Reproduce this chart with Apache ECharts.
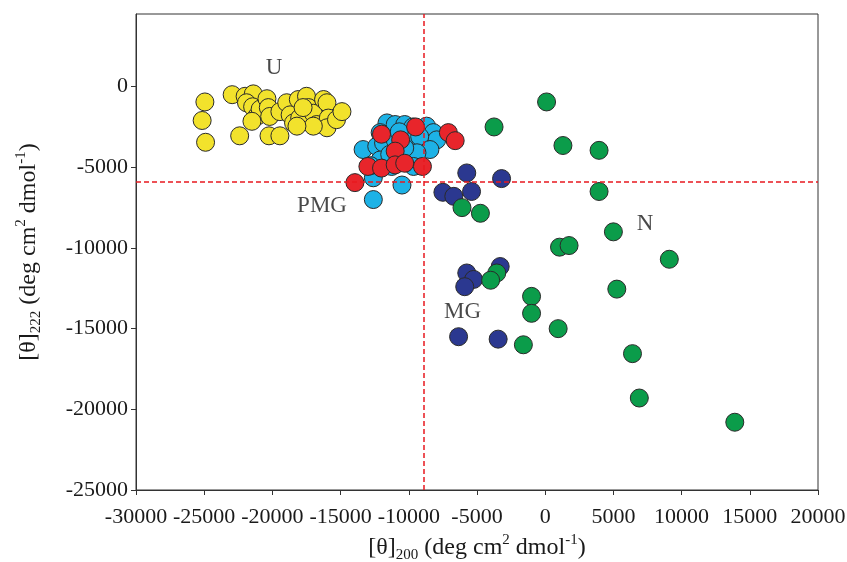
<!DOCTYPE html>
<html>
<head>
<meta charset="utf-8">
<script src="https://cdn.jsdelivr.net/npm/echarts@6/dist/echarts.min.js"></script>
<style>
html, body { margin: 0; padding: 0; background: #fff; }
#chart { width: 847px; height: 562px; }
</style>
</head>
<body>
<div id="chart"></div>
<script>
// [theta]200 , [theta]222 pairs
var unfolded = [
	[-24950,-950],[-25150,-2100],[-24900,-3450],[-22950,-500],[-22400,-3050],[-22000,-600],
	[-21400,-450],[-21900,-1000],[-21450,-1250],[-21150,-1850],[-20900,-1400],[-20400,-750],
	[-20300,-1300],[-20200,-1850],[-20250,-3050],[-19450,-3050],[-19450,-1550],[-18950,-1000],
	[-18700,-1750],[-18450,-2250],[-18100,-800],[-18000,-1950],[-17500,-600],[-17350,-1300],
	[-17000,-1650],[-16750,-2350],[-16250,-800],[-16000,-1000],[-15900,-1950],[-16000,-2550],
	[-15300,-2050],[-14900,-1550],[-17000,-2450],[-18200,-2450],[-21500,-2150],[-17750,-1300]
];
var pmgCyan = [
	[-11600,-2250],[-11000,-2350],[-10300,-2350],[-9700,-2500],[-8700,-2450],[-8200,-2850],
	[-7950,-3300],[-12100,-2850],[-13350,-3900],[-12350,-3700],[-11850,-3500],[-9900,-3300],
	[-9200,-3100],[-8450,-3900],[-9400,-4100],[-12100,-4550],[-11250,-4950],[-10500,-6100],
	[-12600,-7000],[-12600,-5650],[-9650,-4950],[-11000,-3300],[-10300,-3800],[-11400,-4200],
	[-10700,-2800],[-12800,-4900]
];
var pmgRed = [
	[-9500,-2500],[-12000,-2950],[-10600,-3300],[-11000,-4000],[-13000,-4950],[-12000,-5050],
	[-11000,-4850],[-10300,-4750],[-9000,-4950],[-13950,-5950],[-7100,-2850],[-6600,-3350]
];
var moltenGlobule = [
	[-5750,-5350],[-3200,-5700],[-7500,-6550],[-6700,-6800],[-5400,-6500],[-3300,-11150],
	[-5750,-11550],[-5250,-11950],[-5900,-12400],[-6350,-15500],[-3450,-15650]
];
var nativeState = [
	[100,-950],[-3750,-2500],[1300,-3650],[3950,-3950],[3950,-6500],[-6100,-7500],[-4750,-7850],
	[5000,-9000],[1050,-9950],[1750,-9850],[9100,-10700],[-3550,-11550],[-4000,-12000],
	[5250,-12550],[-1000,-13000],[-1000,-14050],[950,-15000],[-1600,-16000],[6400,-16550],
	[6900,-19300],[13900,-20800]
];
var groupLabels = [
	{ name: "U", value: [-19880, 1180] },
	{ name: "PMG", value: [-16360, -7380] },
	{ name: "MG", value: [-6060, -13960] },
	{ name: "N", value: [7320, -8500] }
];
var yTicks = [-25000, -20000, -15000, -10000, -5000, 0];
var cutX = -8900, cutY = -5900;

var serif = "'Liberation Serif', 'Times New Roman', serif";

function dots(data, color){
	return {
		type: "scatter",
		data: data,
		symbolSize: 18,
		itemStyle: { color: color, borderColor: "#2a2a2a", borderWidth: 1, opacity: 1 },
		emphasis: { disabled: true },
		silent: true
	};
}

function titleRich(){
	return {
		m: { fontFamily: serif, fontSize: 24, color: "#1a1a1a", lineHeight: 30, verticalAlign: "middle" },
		sub: { fontFamily: serif, fontSize: 15, color: "#1a1a1a", lineHeight: 30, verticalAlign: "bottom" },
		sup: { fontFamily: serif, fontSize: 15, color: "#1a1a1a", lineHeight: 30, verticalAlign: "top" }
	};
}

function plainNumber(v){
	return String(v);
}

var chart = echarts.init(document.getElementById("chart"), null, { renderer: "canvas" });

var series = [
	dots(unfolded, "#f2e22c"),
	dots(pmgCyan, "#1db2e6"),
	dots(pmgRed, "#e8252b"),
	dots(moltenGlobule, "#2b3890"),
	dots(nativeState, "#0b9c4a")
];
// 分割线
series.push({
	type: "scatter",
	data: [],
	markLine: {
		silent: true,
		symbol: "none",
		label: { show: false },
		lineStyle: { color: "#e8191f", type: [5, 3], width: 1.5 },
		data: [{ xAxis: cutX }, { yAxis: cutY }]
	}
});
// 标注
series.push({
	type: "scatter",
	data: groupLabels,
	symbolSize: 0,
	silent: true,
	label: {
		show: true,
		position: "inside",
		formatter: "{b}",
		fontFamily: serif,
		fontSize: 23,
		color: "#1a1a1a"
	}
});

chart.setOption({
	animation: false,
	backgroundColor: "#fff",
	grid: {
		left: 136, right: 29, top: 14, bottom: 72,
		outerBoundsMode: "none", containLabel: false,
		show: true, borderColor: "#333", borderWidth: 1
	},
	xAxis: {
		type: "value",
		min: -30000,
		max: 20000,
		interval: 5000,
		splitLine: { show: false },
		axisLine: { onZero: false, lineStyle: { color: "#333", width: 1 } },
		axisTick: { inside: false, length: 5, lineStyle: { color: "#333" } },
		axisLabel: { fontFamily: serif, fontSize: 22, color: "#1a1a1a", margin: 16, formatter: plainNumber },
		name: "{m|[θ]}{sub|200}{m| (deg cm}{sup|2}{m| dmol}{sup|-1}{m|)}",
		nameLocation: "middle",
		nameGap: 42,
		nameTextStyle: { rich: titleRich() }
	},
	yAxis: {
		type: "value",
		min: -25000,
		max: 4500,
		splitLine: { show: false },
		axisLine: { onZero: false, lineStyle: { color: "#333", width: 1 } },
		axisTick: { inside: false, length: 5, customValues: yTicks, lineStyle: { color: "#333" } },
		axisLabel: { fontFamily: serif, fontSize: 22, color: "#1a1a1a", margin: 8, customValues: yTicks, formatter: plainNumber },
		name: "{m|[θ]}{sub|222}{m| (deg cm}{sup|2}{m| dmol}{sup|-1}{m|)}",
		nameLocation: "middle",
		nameRotate: 90,
		nameGap: 92,
		nameTextStyle: { rich: titleRich() }
	},
	series: series
});
</script>
</body>
</html>
